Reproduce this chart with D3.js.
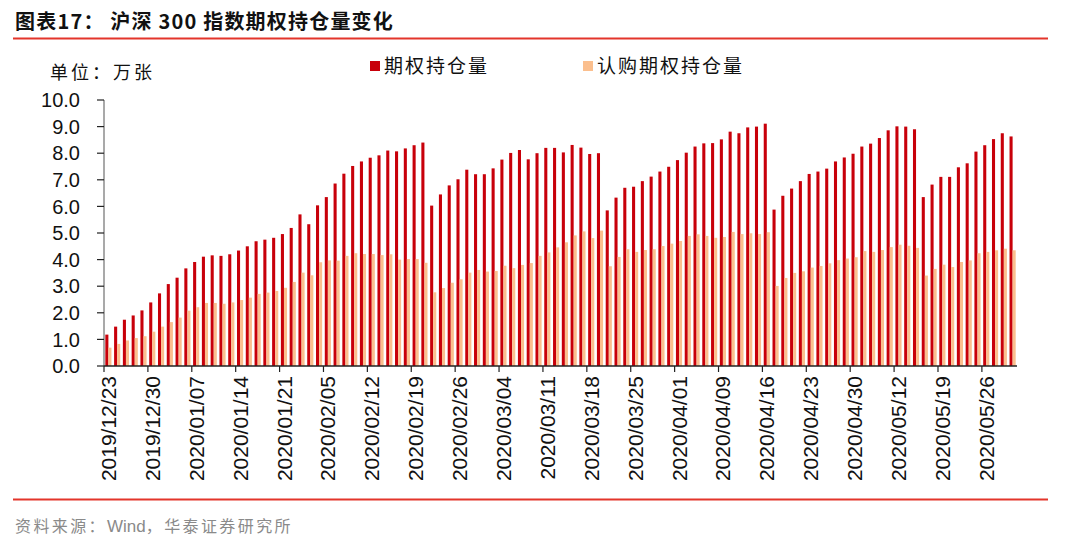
<!DOCTYPE html>
<html>
<head>
<meta charset="utf-8">
<script src="https://cdn.jsdelivr.net/npm/d3@7"></script>
<style>
  body { margin: 0; background: #fff; }
  svg { display: block; }
</style>
</head>
<body>
<div id="chart"></div>
<script>
const dates = [
  "2019/12/23","2019/12/24","2019/12/25","2019/12/26","2019/12/27","2019/12/30","2019/12/31",
  "2020/01/02","2020/01/03","2020/01/06","2020/01/07","2020/01/08","2020/01/09","2020/01/10",
  "2020/01/13","2020/01/14","2020/01/15","2020/01/16","2020/01/17","2020/01/20","2020/01/21",
  "2020/01/22","2020/01/23",
  "2020/02/03","2020/02/04","2020/02/05","2020/02/06","2020/02/07","2020/02/10","2020/02/11",
  "2020/02/12","2020/02/13","2020/02/14","2020/02/17","2020/02/18","2020/02/19","2020/02/20",
  "2020/02/21","2020/02/24","2020/02/25","2020/02/26","2020/02/27","2020/02/28",
  "2020/03/02","2020/03/03","2020/03/04","2020/03/05","2020/03/06","2020/03/09","2020/03/10",
  "2020/03/11","2020/03/12","2020/03/13","2020/03/16","2020/03/17","2020/03/18","2020/03/19",
  "2020/03/20","2020/03/23","2020/03/24","2020/03/25","2020/03/26","2020/03/27","2020/03/30",
  "2020/03/31",
  "2020/04/01","2020/04/02","2020/04/03","2020/04/07","2020/04/08","2020/04/09","2020/04/10",
  "2020/04/13","2020/04/14","2020/04/15","2020/04/16","2020/04/17","2020/04/20","2020/04/21",
  "2020/04/22","2020/04/23","2020/04/24","2020/04/27","2020/04/28","2020/04/29","2020/04/30",
  "2020/05/06","2020/05/07","2020/05/08","2020/05/11","2020/05/12","2020/05/13","2020/05/14",
  "2020/05/15","2020/05/18","2020/05/19","2020/05/20","2020/05/21","2020/05/22","2020/05/25",
  "2020/05/26","2020/05/27","2020/05/28","2020/05/29"
]

// 期权持仓量
const totalOI = [
  1.18,1.48,1.74,1.90,2.09,2.39,2.73,3.08,3.32,3.67,
  3.91,4.11,4.16,4.14,4.20,4.34,4.50,4.69,4.75,4.82,
  4.96,5.19,5.70,5.33,6.04,6.35,6.86,7.23,7.52,7.69,
  7.83,7.92,8.10,8.07,8.18,8.30,8.40,6.03,6.45,6.79,
  7.02,7.38,7.21,7.21,7.43,7.76,8.01,8.12,7.77,8.00,
  8.20,8.20,8.03,8.31,8.21,7.97,8.00,5.85,6.33,6.70,
  6.74,6.95,7.12,7.31,7.49,7.74,8.02,8.25,8.37,8.38,
  8.52,8.81,8.75,8.97,9.00,9.11,5.88,6.40,6.67,6.95,
  7.22,7.31,7.42,7.69,7.84,7.98,8.25,8.36,8.57,8.86,
  9.01,9.00,8.90,6.35,6.82,7.11,7.11,7.47,7.62,8.06,
  8.30,8.53,8.75,8.63
]

// 认购期权持仓量
const callOI = [
  0.69,0.83,0.96,1.05,1.12,1.29,1.48,1.65,1.82,2.08,
  2.21,2.37,2.37,2.34,2.39,2.48,2.57,2.71,2.76,2.82,
  2.94,3.16,3.51,3.41,3.90,3.97,3.96,4.14,4.24,4.21,
  4.21,4.17,4.20,4.00,4.02,4.02,3.88,2.77,2.93,3.13,
  3.26,3.51,3.61,3.55,3.57,3.77,3.68,3.80,3.87,4.14,
  4.27,4.46,4.65,4.91,5.06,4.81,5.09,3.75,4.10,4.39,
  4.29,4.36,4.39,4.51,4.60,4.70,4.89,4.95,4.89,4.82,
  4.85,5.04,4.96,4.99,4.96,5.03,3.01,3.31,3.50,3.56,
  3.70,3.76,3.86,3.98,4.04,4.09,4.32,4.29,4.36,4.47,
  4.56,4.52,4.44,3.40,3.65,3.81,3.72,3.91,3.97,4.24,
  4.29,4.35,4.41,4.35
]

const seriesNames = ["期权持仓量", "认购期权持仓量"]
const seriesColors = ["#c8000a", "#fbbf8e"]
const yTicks = [0,1,2,3,4,5,6,7,8,9,10]

const width = 1080, height = 554
const margin = {left: 104, right: 1080 - 1017, top: 100, bottom: 554 - 366}

const svg = d3.select("#chart").append("svg")
  .attr("width", width)
  .attr("height", height)
  .attr("font-family", "'Liberation Sans', Arial, sans-serif")

// 标题
svg.append("text")
  .attr("x", 15)
  .attr("y", 29)
  .attr("font-family", "'Noto Sans CJK SC', sans-serif")
  .attr("font-weight", "bold")
  .attr("font-size", 20)
  .attr("letter-spacing", 1.2)
  .attr("fill", "#111")
  .text("图表17：  沪深 300 指数期权持仓量变化")

svg.append("line")
  .attr("x1", 13).attr("x2", 1048)
  .attr("y1", 38.5).attr("y2", 38.5)
  .attr("stroke", "#e3352b").attr("stroke-width", 2)

svg.append("line")
  .attr("x1", 13).attr("x2", 1048)
  .attr("y1", 499.5).attr("y2", 499.5)
  .attr("stroke", "#e3352b").attr("stroke-width", 2)

// 资料来源
const source = svg.append("text")
  .attr("x", 15)
  .attr("y", 532)
  .attr("font-family", "'Noto Sans CJK SC', sans-serif")
  .attr("font-size", 16)
  .attr("fill", "#8a8a8a")
source.append("tspan").attr("letter-spacing", 2.4).text("资料来源：")
source.append("tspan").attr("font-family", "'Liberation Sans', Arial, sans-serif").attr("font-size", 17).text("Wind")
source.append("tspan").attr("letter-spacing", 2.4).text("，华泰证券研究所")

svg.append("text")
  .attr("x", 50)
  .attr("y", 79)
  .attr("font-family", "'Noto Sans CJK SC', sans-serif")
  .attr("font-size", 18)
  .attr("letter-spacing", 3)
  .attr("fill", "#111")
  .text("单位：万张")

// 图例
const legendX = [370, 583]
const legend = svg.append("g")
seriesNames.forEach((name, i) => {
  legend.append("rect")
    .attr("x", legendX[i]).attr("y", 61)
    .attr("width", 10).attr("height", 10)
    .attr("fill", seriesColors[i])
  legend.append("text")
    .attr("x", legendX[i] + 14).attr("y", 73)
    .attr("font-family", "'Noto Sans CJK SC', sans-serif")
    .attr("font-size", 19)
    .attr("letter-spacing", 2)
    .attr("fill", "#111")
    .text(name)
})

const x = d3.scaleBand()
  .domain(dates)
  .range([margin.left, width - margin.right])
  .paddingInner(0.3)
  .paddingOuter(0.15)

const x1 = d3.scaleBand()
  .domain([0, 1])
  .range([0, x.bandwidth()])

const y = d3.scaleLinear()
  .domain([0, 10])
  .range([height - margin.bottom, margin.top])

// 柱子
const g = svg.append("g")
const groups = g.selectAll("g.day")
  .data(dates)
  .join("g")
  .attr("class", "day")
  .attr("transform", d => `translate(${x(d)},0)`)

groups.selectAll("rect")
  .data((d, i) => [totalOI[i], callOI[i]])
  .join("rect")
  .attr("x", (v, k) => x1(k))
  .attr("width", x1.bandwidth())
  .attr("y", v => y(v))
  .attr("height", v => y(0) - y(v))
  .attr("fill", (v, k) => seriesColors[k])

// y 轴
const yAxis = svg.append("g")
yAxis.append("line")
  .attr("x1", margin.left).attr("x2", margin.left)
  .attr("y1", y(10)).attr("y2", y(0))
  .attr("stroke", "#8c8c8c").attr("stroke-width", 1.5)
yAxis.selectAll("line.tick")
  .data(yTicks)
  .join("line")
  .attr("class", "tick")
  .attr("x1", margin.left - 7).attr("x2", margin.left)
  .attr("y1", d => y(d)).attr("y2", d => y(d))
  .attr("stroke", "#222").attr("stroke-width", 1.2)
yAxis.selectAll("text")
  .data(yTicks)
  .join("text")
  .attr("x", 80)
  .attr("y", d => y(d))
  .attr("dy", "0.36em")
  .attr("text-anchor", "end")
  .attr("font-size", 20)
  .attr("fill", "#111")
  .text(d => d.toFixed(1))

// x 轴
const xAxis = svg.append("g")
const gap = x.step() * x.paddingInner() / 2
xAxis.append("line")
  .attr("x1", margin.left).attr("x2", width - margin.right)
  .attr("y1", y(0)).attr("y2", y(0))
  .attr("stroke", "#222").attr("stroke-width", 1.5)

const labelled = dates.filter((d, i) => i % 5 === 0)
xAxis.selectAll("line.tick")
  .data(labelled)
  .join("line")
  .attr("class", "tick")
  .attr("x1", d => x(d) - gap).attr("x2", d => x(d) - gap)
  .attr("y1", y(0)).attr("y2", y(0) + 6)
  .attr("stroke", "#222").attr("stroke-width", 1.2)

xAxis.selectAll("text")
  .data(labelled)
  .join("text")
  .attr("transform", d => `translate(${x(d) + x.bandwidth() / 2},${y(0) + 10}) rotate(-90)`)
  .attr("text-anchor", "end")
  .attr("dy", "0.36em")
  .attr("font-size", 21)
  .attr("fill", "#111")
  .text(d => d)
</script>
</body>
</html>
